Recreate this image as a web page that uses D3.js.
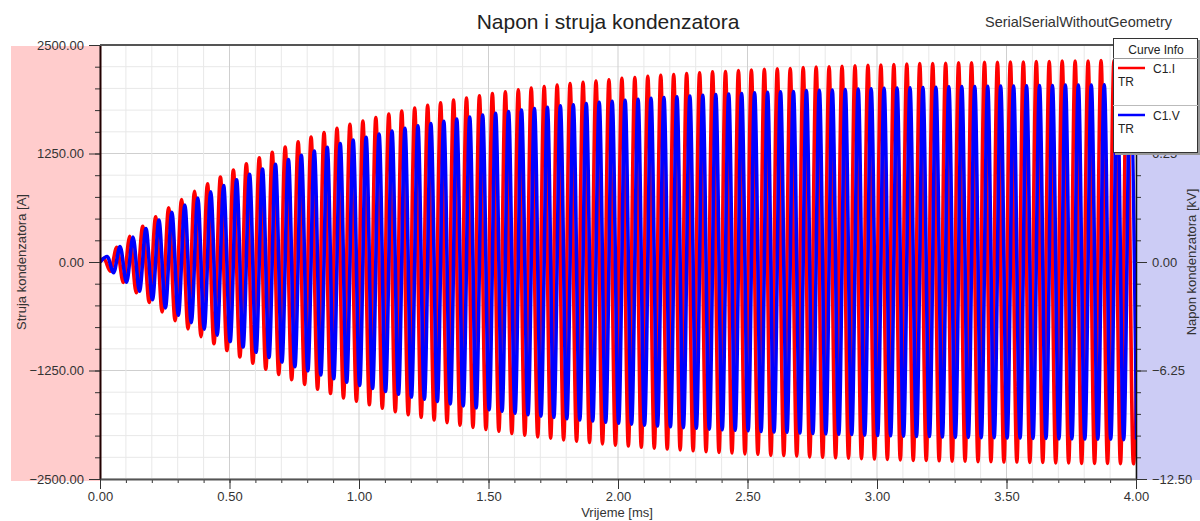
<!DOCTYPE html>
<html>
<head>
<meta charset="utf-8">
<script src="https://cdn.jsdelivr.net/npm/d3@7"></script>
<style>
  body { margin: 0; background: #fff; }
  svg { display: block; font-family: "Liberation Sans", Arial, sans-serif; }
  .tick text { fill: #333; font-size: 13px; }
</style>
</head>
<body>
<div id="canvas"></div>
<script>
// values
var timeTicks = [0, 0.5, 1, 1.5, 2, 2.5, 3, 3.5, 4];
var currentTicks = [-2500, -1250, 0, 1250, 2500];
var voltageTicks = [-12.5, -6.25, 0, 6.25, 12.5];

// period of the oscillation and time of the first extreme [ms]
var period = 0.05;
var currentFirstPeak = 0.015;
var voltageFirstPeak = 0.0275;

// C1.I extremes per cycle [A]
var currentPeaks = [40,170,295,410,520,625,720,815,900,980,1060,1130,1200,1265,1325,1385,1440,1490,1540,1585,
  1625,1665,1705,1740,1775,1805,1835,1865,1890,1915,1940,1960,1985,2005,2020,2040,2055,2070,2085,2100,
  2115,2125,2140,2150,2160,2170,2180,2190,2195,2205,2210,2220,2225,2230,2240,2245,2250,2255,2260,2265,
  2270,2275,2280,2285,2285,2290,2295,2295,2300,2300,2305,2305,2310,2310,2315,2315,2315,2320,2320,2325,2325];
var currentTroughs = [-105,-235,-355,-465,-575,-675,-770,-860,-940,-1020,-1095,-1165,-1235,-1295,-1355,-1410,-1465,-1515,-1565,-1605,
  -1645,-1685,-1725,-1760,-1790,-1820,-1850,-1880,-1905,-1930,-1950,-1975,-1995,-2015,-2030,-2050,-2065,-2080,-2095,-2110,
  -2120,-2135,-2145,-2155,-2165,-2175,-2185,-2195,-2200,-2210,-2215,-2225,-2230,-2235,-2245,-2250,-2255,-2260,-2265,-2270,
  -2275,-2280,-2285,-2285,-2290,-2295,-2295,-2300,-2300,-2305,-2305,-2310,-2310,-2315,-2315,-2320,-2320,-2320,-2325,-2325];

// C1.V extremes per cycle [kV]
var voltagePeaks = [0.32,0.89,1.43,1.93,2.41,2.86,3.28,3.69,4.05,4.40,4.74,5.05,5.36,5.63,5.90,6.15,6.39,6.61,6.83,7.02,
  7.19,7.37,7.55,7.70,7.84,7.98,8.11,8.24,8.35,8.46,8.56,8.66,8.76,8.84,8.91,9.00,9.06,9.13,9.20,9.26,
  9.32,9.37,9.43,9.47,9.52,9.56,9.60,9.65,9.67,9.71,9.74,9.78,9.80,9.82,9.87,9.89,9.91,9.93,9.96,9.98,
  10.00,10.02,10.04,10.05,10.07,10.09,10.10,10.11,10.12,10.13,10.14,10.15,10.16,10.17,10.19,10.20,10.20,10.21,10.22,10.23];
var voltageTroughs = [-0.61,-1.17,-1.68,-2.17,-2.64,-3.07,-3.49,-3.87,-4.22,-4.58,-4.90,-5.20,-5.50,-5.76,-6.03,-6.27,-6.50,-6.72,-6.93,-7.11,
  -7.28,-7.46,-7.62,-7.78,-7.91,-8.04,-8.17,-8.29,-8.40,-8.51,-8.60,-8.71,-8.80,-8.88,-8.95,-9.03,-9.10,-9.16,-9.23,-9.29,
  -9.34,-9.40,-9.45,-9.49,-9.54,-9.58,-9.63,-9.66,-9.69,-9.72,-9.76,-9.79,-9.81,-9.85,-9.88,-9.90,-9.92,-9.94,-9.97,-9.99,
  -10.01,-10.03,-10.05,-10.05,-10.08,-10.10,-10.10,-10.12,-10.12,-10.14,-10.14,-10.16,-10.16,-10.19,-10.19,-10.20,-10.21,-10.21,-10.23,-10.23];

var W = 1200, H = 521;
var m = {t:45, r:64, b:42, l:100};

var svg = d3.select('#canvas').append('svg')
    .attr('width', W)
    .attr('height', H);

var x = d3.scaleLinear().domain([0, 4]).range([m.l, W - m.r]);
var yI = d3.scaleLinear().domain([-2500, 2500]).range([H - m.b, m.t]);
var yV = d3.scaleLinear().domain([-12.5, 12.5]).range([H - m.b, m.t]);

//side bands
svg.append('rect').attr('x', 11).attr('y', m.t + 1).attr('width', m.l - 11).attr('height', H - m.b - m.t + 1)
    .attr('fill', '#ffcccc');
svg.append('rect').attr('x', W - m.r).attr('y', m.t).attr('width', m.r).attr('height', H - m.b - m.t + 1)
    .attr('fill', '#ccccf5');

//grid
var minorI = d3.range(-2500, 2501, 250), minorT = d3.range(0, 41).map(function(d){return d / 10;});
var grid = svg.append('g');
grid.selectAll('.hg').data(minorI).enter().append('line')
    .attr('x1', x(0)).attr('x2', x(4))
    .attr('y1', function(d){return yI(d)}).attr('y2', function(d){return yI(d)})
    .attr('stroke', function(d){return d % 1250 === 0 ? '#cfcfcf' : '#e8e8e8'})
    .attr('stroke-width', 1);
grid.selectAll('.vg').data(minorT).enter().append('line')
    .attr('y1', yI(2500)).attr('y2', yI(-2500))
    .attr('x1', function(d){return x(d)}).attr('x2', function(d){return x(d)})
    .attr('stroke', function(d){return Math.abs(d * 2 - Math.round(d * 2)) < 1e-6 ? '#cfcfcf' : '#e8e8e8'})
    .attr('stroke-width', 1);

//series
function buildSeries(first, peaks, troughs) {
  var pts = [[0, 0]];
  peaks.forEach(function(p, k){ pts.push([first + k * period, p]); });
  troughs.forEach(function(v, k){ pts.push([first + k * period + period / 2, v]); });
  return pts.sort(function(a, b){ return a[0] - b[0]; });
}
var currentData = buildSeries(currentFirstPeak, currentPeaks, currentTroughs);
var voltageData = buildSeries(voltageFirstPeak, voltagePeaks, voltageTroughs);

svg.append('clipPath').attr('id', 'plotclip').append('rect')
    .attr('x', x(0)).attr('y', m.t).attr('width', x(4) - x(0)).attr('height', H - m.b - m.t);

var plot = svg.append('g').attr('clip-path', 'url(#plotclip)');
var lineI = d3.line().x(function(d){return x(d[0])}).y(function(d){return yI(d[1])}).curve(d3.curveMonotoneX);
var lineV = d3.line().x(function(d){return x(d[0])}).y(function(d){return yV(d[1])}).curve(d3.curveMonotoneX);
plot.append('path').datum(currentData).attr('d', lineI)
    .attr('fill', 'none').attr('stroke', '#ff0000').attr('stroke-width', 3.6);
plot.append('path').datum(voltageData).attr('d', lineV)
    .attr('fill', 'none').attr('stroke', '#0000ff').attr('stroke-width', 3.6);

//axes
var fmt = d3.format('.2f');
function styleAxis(g, col, w) {
  g.select('.domain').attr('stroke', col).attr('stroke-width', w);
  g.selectAll('.tick line').attr('stroke', '#333');
}
svg.append('g').attr('transform', 'translate(' + x(0) + ',0)')
    .call(d3.axisLeft(yI).tickValues(minorI).tickSize(5).tickFormat('')).call(function(g){g.select('.domain').remove(); g.selectAll('line').attr('stroke','#333');});
svg.append('g').attr('transform', 'translate(' + x(0) + ',0)')
    .call(d3.axisLeft(yI).tickValues(currentTicks).tickSize(11).tickPadding(5).tickFormat(fmt).tickSizeOuter(0))
    .call(function(g){styleAxis(g, '#200', 2);});

svg.append('g').attr('transform', 'translate(' + x(4) + ',0)')
    .call(d3.axisRight(yV).tickValues(d3.range(-12.5, 12.6, 1.25)).tickSize(5).tickFormat('')).call(function(g){g.select('.domain').remove(); g.selectAll('line').attr('stroke','#333');});
svg.append('g').attr('transform', 'translate(' + x(4) + ',0)')
    .call(d3.axisRight(yV).tickValues(voltageTicks).tickSize(11).tickPadding(5).tickFormat(fmt).tickSizeOuter(0))
    .call(function(g){styleAxis(g, '#111', 1.5);});

svg.append('g').attr('transform', 'translate(0,' + yI(-2500) + ')')
    .call(d3.axisBottom(x).tickValues(minorT).tickSize(4).tickFormat('')).call(function(g){g.select('.domain').remove(); g.selectAll('line').attr('stroke','#333');});
svg.append('g').attr('transform', 'translate(0,' + yI(-2500) + ')')
    .call(d3.axisBottom(x).tickValues(timeTicks).tickSize(10).tickPadding(3).tickFormat(fmt).tickSizeOuter(0))
    .call(function(g){styleAxis(g, '#555', 2);});

svg.append('line').attr('x1', x(0)).attr('x2', x(4)).attr('y1', yI(2500)).attr('y2', yI(2500))
    .attr('stroke', '#555').attr('stroke-width', 2);

//titles
svg.append('text').attr('x', 608).attr('y', 29).attr('text-anchor', 'middle')
    .attr('font-size', 21).attr('fill', '#222').text('Napon i struja kondenzatora');
svg.append('text').attr('x', 985).attr('y', 27)
    .attr('font-size', 14.5).attr('fill', '#333').text('SerialSerialWithoutGeometry');
svg.append('text').attr('x', 617).attr('y', 517).attr('text-anchor', 'middle')
    .attr('font-size', 13).attr('fill', '#333').text('Vrijeme [ms]');
svg.append('text').attr('transform', 'translate(26,' + yI(0) + ') rotate(-90)').attr('text-anchor', 'middle')
    .attr('font-size', 13).attr('fill', '#333').text('Struja kondenzatora [A]');
svg.append('text').attr('transform', 'translate(1196,' + yI(0) + ') rotate(-90)').attr('text-anchor', 'middle')
    .attr('font-size', 13).attr('fill', '#333').text('Napon kondenzatora [kV]');

//legend
var legendItems = [{name:'C1.I', color:'#ff0000'}, {name:'C1.V', color:'#0000ff'}];
var lg = svg.append('g').attr('transform', 'translate(1113,38)');
lg.append('rect').attr('x', 2).attr('y', 2).attr('width', 85).attr('height', 115).attr('fill', '#999');
lg.append('rect').attr('x', 0.5).attr('y', 0.5).attr('width', 84).attr('height', 114)
    .attr('fill', '#fff').attr('stroke', '#333');
lg.append('text').attr('x', 43).attr('y', 16).attr('text-anchor', 'middle').attr('font-size', 12).attr('fill', '#222').text('Curve Info');
lg.append('line').attr('x1', 0).attr('x2', 85).attr('y1', 20.5).attr('y2', 20.5).attr('stroke', '#999');
var item = lg.selectAll('.item').data(legendItems).enter().append('g')
    .attr('transform', function(d, i){return 'translate(0,' + (30 + i * 47) + ')'});
item.append('line').attr('x1', 5).attr('x2', 32).attr('y1', 0).attr('y2', 0)
    .attr('stroke', function(d){return d.color}).attr('stroke-width', 2.5);
item.append('text').attr('x', 40).attr('y', 5).attr('font-size', 12).attr('fill', '#222').text(function(d){return d.name});
item.append('text').attr('x', 5).attr('y', 18).attr('font-size', 12).attr('fill', '#222').text('TR');
lg.append('line').attr('x1', 0).attr('x2', 85).attr('y1', 67.5).attr('y2', 67.5).attr('stroke', '#bbb');
</script>
</body>
</html>
